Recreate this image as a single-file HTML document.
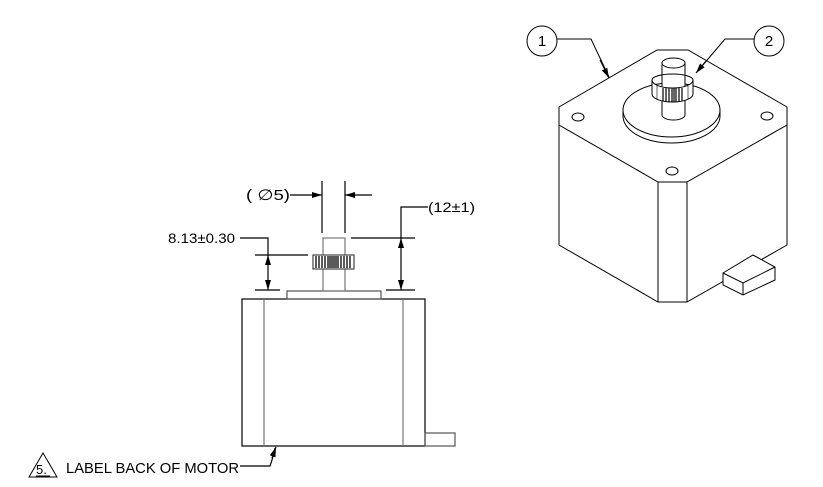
<!DOCTYPE html>
<html><head><style>body{margin:0;background:#fff}svg{display:block}</style></head><body>
<svg width="823" height="487" viewBox="0 0 823 487" xmlns="http://www.w3.org/2000/svg" font-family="Liberation Sans, sans-serif">
<defs><marker id="a" viewBox="0 0 10 6" refX="10" refY="3" markerWidth="10" markerHeight="6" orient="auto" markerUnits="userSpaceOnUse"><path d="M0,0L10,3L0,6z" fill="#000"/></marker></defs>
<g fill="none" stroke="#000" stroke-width="1.2">
<rect x="242" y="299" width="183" height="147"/>
<line x1="264" y1="299" x2="264" y2="446" stroke="#777"/>
<line x1="403" y1="299" x2="403" y2="446" stroke="#777"/>
<rect x="287" y="291" width="94" height="8" stroke="#555"/>
<rect x="425" y="433" width="30" height="13" stroke="#555"/>
<rect x="323" y="238" width="22" height="53" stroke="#777"/>
<rect x="313" y="255" width="41" height="14" fill="#fff" stroke="#444"/>
<g stroke="#000" stroke-width="1.3">
<line x1="316" y1="256" x2="316" y2="268"/><line x1="319" y1="256" x2="319" y2="268"/><line x1="322" y1="256" x2="322" y2="268"/><line x1="325" y1="256" x2="325" y2="268"/><line x1="328" y1="256" x2="328" y2="268"/><line x1="330" y1="256" x2="330" y2="268"/><line x1="332" y1="256" x2="332" y2="268"/><line x1="334" y1="256" x2="334" y2="268"/><line x1="336" y1="256" x2="336" y2="268"/><line x1="338" y1="256" x2="338" y2="268"/><line x1="341" y1="256" x2="341" y2="268"/><line x1="344" y1="256" x2="344" y2="268"/><line x1="347" y1="256" x2="347" y2="268"/><line x1="350" y1="256" x2="350" y2="268"/>
</g>
<line x1="322" y1="181" x2="322" y2="233"/><line x1="345" y1="181" x2="345" y2="233"/>
<line x1="290" y1="195" x2="322" y2="195" marker-end="url(#a)"/>
<line x1="372" y1="195" x2="345" y2="195" marker-end="url(#a)"/>
<line x1="351" y1="238" x2="415" y2="238"/><line x1="386" y1="290" x2="415" y2="290"/>
<line x1="401" y1="250" x2="401" y2="238" marker-end="url(#a)"/>
<line x1="401" y1="250" x2="401" y2="290" marker-end="url(#a)"/>
<polyline points="401,238 401,207 428,207"/>
<line x1="255" y1="255" x2="308" y2="255"/><line x1="255" y1="290" x2="280" y2="290"/>
<line x1="268" y1="270" x2="268" y2="255" marker-end="url(#a)"/>
<line x1="268" y1="270" x2="268" y2="290" marker-end="url(#a)"/>
<polyline points="240,238 268,238 268,255"/>
<polyline points="240,466 270,466 272,460 275,448" />
<line x1="272" y1="458" x2="276" y2="447" marker-end="url(#a)"/>
<polygon points="29,477 43,453 57,477" stroke-width="1"/>
<!-- iso view -->
<polygon points="559,107 657,50 688,50 787,107 787,125 687,182 658,182 559,125" stroke-width="1"/>
<polyline points="559,125 559,245 658,302 687,302 787,245 787,125" stroke-width="1"/>
<line x1="658" y1="182" x2="658" y2="302" stroke-width="1"/>
<line x1="687" y1="182" x2="687" y2="302" stroke-width="1"/>
<ellipse cx="578" cy="117" rx="6" ry="4" stroke-width="1"/>
<ellipse cx="767" cy="116" rx="6" ry="4" stroke-width="1"/>
<ellipse cx="672" cy="171" rx="6" ry="4" stroke-width="1"/>
<path d="M623,110 v6 a48.5,27 0 0 0 97,0 v-6" stroke-width="1" fill="#fff"/>
<ellipse cx="671.5" cy="110" rx="48.5" ry="27" stroke-width="1" fill="#fff"/>
<path d="M662,63 v52 a11.5,5 0 0 0 23,0 v-52" stroke-width="1" fill="#fff"/>
<ellipse cx="673.5" cy="63" rx="11.5" ry="5" stroke-width="1" fill="#fff"/>
<path d="M652,80 v14 a20.5,8 0 0 0 41,0 v-14 a20.5,8 0 0 1 -41,0z" fill="#fff" stroke-width="1"/>
<path d="M652,80 a20.5,6 0 0 1 41,0" stroke-width="1"/>
<g stroke-width="1.2"><line x1="663" y1="88" x2="663" y2="101"/><line x1="666" y1="88" x2="666" y2="102"/><line x1="669" y1="88" x2="669" y2="102"/><line x1="672" y1="88" x2="672" y2="102"/><line x1="674" y1="88" x2="674" y2="102"/><line x1="676" y1="88" x2="676" y2="102"/><line x1="679" y1="88" x2="679" y2="102"/><line x1="682" y1="88" x2="682" y2="101"/><line x1="657" y1="86" x2="657" y2="99" stroke-width="0.6"/><line x1="688" y1="86" x2="688" y2="99" stroke-width="0.6"/></g>
<polygon points="723,273 753,255 775,267 775,280 743,295 723,285" fill="#fff" stroke-width="1"/>
<polyline points="723,273 743,283 775,267" stroke-width="1"/>
<line x1="743" y1="283" x2="743" y2="295" stroke-width="1"/>
<circle cx="542" cy="41" r="15" stroke-width="1"/>
<circle cx="769" cy="41" r="15" stroke-width="1"/>
<polyline points="557,39 591,39 609,77" stroke-width="1"/>
<line x1="600" y1="60" x2="609" y2="78" marker-end="url(#a)" stroke-width="1"/>
<polyline points="754,39 725,39 697,72" stroke-width="1"/>
<line x1="706" y1="61" x2="696" y2="73" marker-end="url(#a)" stroke-width="1"/>
</g>
<g font-size="14" fill="#000">
<text x="542" y="46" text-anchor="middle" font-size="15">1</text>
<text x="769" y="46" text-anchor="middle" font-size="15">2</text>
<text x="246" y="200" font-size="15" textLength="44" lengthAdjust="spacingAndGlyphs">( ∅5)</text>
<text x="428" y="212" textLength="47" lengthAdjust="spacingAndGlyphs">(12±1)</text>
<text x="168" y="243" textLength="67" lengthAdjust="spacingAndGlyphs">8.13±0.30</text>
<text x="36" y="474" font-size="13">5.</text>
<line x1="36" y1="476" x2="50" y2="476" stroke="#000"/>
<text x="66" y="473" font-size="15" textLength="173" lengthAdjust="spacingAndGlyphs">LABEL BACK OF MOTOR</text>
</g>
</svg>
</body></html>
